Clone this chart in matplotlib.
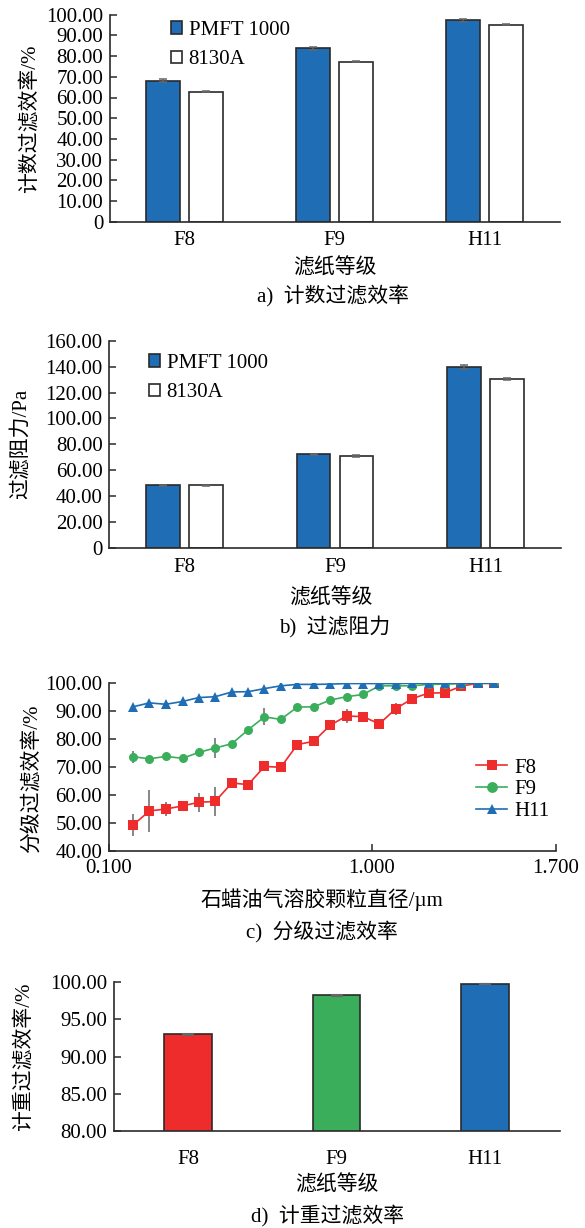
import matplotlib
matplotlib.use('Agg')
import matplotlib.pyplot as plt
import numpy as np
from matplotlib.ticker import FuncFormatter, NullLocator

plt.rcParams['font.family'] = ['Liberation Serif', 'Noto Sans CJK SC']
plt.rcParams['font.size'] = 15
plt.rcParams['axes.unicode_minus'] = False

# ---- data ----
grades = ['F8', 'F9', 'H11']
series_names = ['PMFT 1000', '8130A']

count_eff_pmft = [68.0, 83.8, 97.3]
count_eff_pmft_err = [0.7, 0.8, 0.8]
count_eff_8130 = [62.8, 77.3, 95.2]
count_eff_8130_err = [0.2, 0.3, 0.2]

resist_pmft = [48.6, 72.5, 139.4]
resist_pmft_err = [0.4, 0.4, 1.5]
resist_8130 = [48.3, 71.0, 130.6]
resist_8130_err = [0.5, 0.9, 0.8]

diam = [0.124, 0.143, 0.165, 0.191, 0.220, 0.254, 0.294, 0.339, 0.391, 0.451,
        0.521, 0.602, 0.694, 0.801, 0.925, 1.067, 1.232, 1.422, 1.641, 1.894,
        2.186, 2.523, 2.913]
frac_f8 = [49.3, 54.3, 55.0, 56.1, 57.4, 57.7, 64.3, 63.7, 70.2, 69.9,
           78.0, 79.2, 84.9, 88.2, 88.0, 85.4, 90.8, 94.4, 96.4, 96.5,
           98.9, 99.9, 99.9]
frac_f8_err = [3.9, 7.6, 2.6, 1.0, 3.3, 5.1, 0.8, 0.8, 0.8, 0.6,
               0.6, 0.6, 0.6, 2.5, 0.6, 0.6, 2.1, 0.5, 0.5, 0.4,
               0.3, 0.1, 0.1]
frac_f9 = [73.7, 72.9, 73.8, 73.1, 75.2, 76.8, 78.3, 83.3, 87.9, 87.0,
           91.4, 91.5, 93.9, 95.1, 95.9, 99.0, 99.0, 99.0, 99.5, 99.6,
           99.8, 99.9, 99.9]
frac_f9_err = [2.1, 0.6, 0.6, 1.0, 1.7, 3.7, 0.6, 0.6, 3.0, 0.6,
               0.5, 0.5, 0.5, 0.5, 0.4, 0.3, 0.3, 0.3, 0.2, 0.2,
               0.1, 0.1, 0.1]
frac_h11 = [91.5, 92.9, 92.4, 93.4, 94.8, 95.1, 96.8, 96.9, 98.0, 99.0,
            99.5, 99.5, 99.6, 99.8, 99.8, 99.8, 99.8, 99.9, 99.9, 99.9,
            99.9, 99.9, 99.9]
frac_h11_err = [1.0, 0.5, 0.4, 0.4, 0.4, 0.3, 0.3, 0.3, 0.2, 0.2,
                0.1, 0.1, 0.1, 0.1, 0.1, 0.1, 0.1, 0.1, 0.1, 0.1,
                0.1, 0.1, 0.1]
c_ticks = [0.1, 1.0, 5.0]
c_ticklabels = ['0.100', '1.000', '1.700']

mass_eff = [93.0, 98.26, 99.8]
mass_eff_err = [0.05, 0.06, 0.03]

RED = '#ee2c2c'
GREEN = '#3bae5b'
BLUE = '#1f6db4'
EDGE = '#2a2a2a'
ERR = '#666666'

W, H = 585, 1228
fig = plt.figure(figsize=(W / 100, H / 100), dpi=100)


def box(l, t, r, b):
    return [l / W, 1 - b / H, (r - l) / W, (b - t) / H]


def fmt(v, pos):
    return '0' if v == 0 else f'{v:.2f}'


def style(ax):
    for s in ['top', 'right']:
        ax.spines[s].set_visible(False)
    for s in ['left', 'bottom']:
        ax.spines[s].set_color(EDGE)
        ax.spines[s].set_linewidth(1.2)
    ax.tick_params(axis='y', direction='in', length=5, width=1.1, color=EDGE, pad=4.5)
    ax.yaxis.set_major_formatter(FuncFormatter(fmt))


def ftext(x, y, s, **kw):
    fig.text(x / W, 1 - y / H, s, ha='center', va='center', **kw)


def pair_bars(ax, v1, e1, v2, e2, ymax, step, leg_xy):
    x = np.arange(len(grades))
    w = 0.225
    off = 0.1425
    ekw = dict(ecolor=ERR, elinewidth=1.1, capsize=3, capthick=1.1)
    ax.bar(x - off, v1, w, yerr=e1, color=BLUE, edgecolor=EDGE, linewidth=1.2,
           error_kw=ekw, label=series_names[0])
    ax.bar(x + off, v2, w, yerr=e2, color='white', edgecolor=EDGE, linewidth=1.2,
           error_kw=ekw, label=series_names[1])
    ax.set_xlim(-0.5, 2.5)
    ax.set_ylim(0, ymax)
    ax.set_yticks(np.arange(0, ymax + 0.1, step))
    ax.set_xticks(x)
    ax.set_xticklabels(grades)
    ax.tick_params(axis='x', length=0, pad=7)
    style(ax)
    ax.legend(loc='upper left', bbox_to_anchor=(leg_xy[0] / W, 1 - leg_xy[1] / H),
              bbox_transform=fig.transFigure, frameon=False, handlelength=0.55,
              handleheight=0.55, handletextpad=0.3, labelspacing=0.5,
              borderpad=0, borderaxespad=0, fontsize=15)


# a) count efficiency
ax1 = fig.add_axes(box(109.5, 14.7, 559.5, 221.7))
pair_bars(ax1, count_eff_pmft, count_eff_pmft_err, count_eff_8130, count_eff_8130_err,
          100, 10, (171, 21))
ftext(30, 119, '计数过滤效率/%', rotation=90)
ftext(335, 268, '滤纸等级')
ftext(333, 295, 'a)  计数过滤效率')

# b) resistance
ax2 = fig.add_axes(box(109, 340.7, 561, 548))
pair_bars(ax2, resist_pmft, resist_pmft_err, resist_8130, resist_8130_err,
          160, 20, (149, 354))
ftext(21, 444, '过滤阻力/Pa', rotation=90)
ftext(331, 598, '滤纸等级')
ftext(335, 627, 'b)  过滤阻力')

# c) fractional efficiency
ax3 = fig.add_axes(box(108.5, 683, 556, 851))
lines = [(frac_f8, frac_f8_err, RED, 's', 'F8'),
         (frac_f9, frac_f9_err, GREEN, 'o', 'F9'),
         (frac_h11, frac_h11_err, BLUE, '^', 'H11')]
handles = []
for vals, errs, col, mk, lab in lines:
    cont = ax3.errorbar(diam, vals, yerr=errs, color=col, marker=mk, markersize=6.5,
                        markeredgewidth=0, linewidth=1.2, ecolor=ERR, elinewidth=1.1,
                        capsize=3, capthick=1.1, label=lab)
    handles.append(cont[0])
ax3.set_xscale('log')
ax3.set_xlim(0.1, 5.0)
ax3.set_ylim(40, 100)
ax3.set_yticks(np.arange(40, 100.1, 10))
ax3.xaxis.set_minor_locator(NullLocator())
ax3.set_xticks(c_ticks)
ax3.set_xticklabels(c_ticklabels)
ax3.tick_params(axis='x', direction='in', length=5, width=1.1, color=EDGE, pad=6)
style(ax3)
ax3.legend(handles, [t[4] for t in lines], loc='upper left',
           bbox_to_anchor=(476 / W, 1 - 758 / H),
           bbox_transform=fig.transFigure, frameon=False, handlelength=1.5,
           handletextpad=0.35, labelspacing=0.1, borderpad=0, borderaxespad=0,
           fontsize=15, markerscale=1.2)
ftext(32, 779, '分级过滤效率/%', rotation=90)
ftext(322, 900, '石蜡油气溶胶颗粒直径/µm')
ftext(322, 932, 'c)  分级过滤效率')

# d) mass efficiency
ax4 = fig.add_axes(box(113.6, 982.3, 559.5, 1131))
xd = np.arange(len(grades))
ax4.bar(xd, mass_eff, 0.32, yerr=mass_eff_err, color=[RED, GREEN, BLUE],
        edgecolor=EDGE, linewidth=1.2,
        error_kw=dict(ecolor=ERR, elinewidth=1.1, capsize=4, capthick=1.5))
ax4.set_xlim(-0.5, 2.5)
ax4.set_ylim(80, 100)
ax4.set_yticks(np.arange(80, 100.1, 5))
ax4.set_xticks(xd)
ax4.set_xticklabels(grades)
ax4.tick_params(axis='x', length=0, pad=14)
style(ax4)
ftext(24, 1057, '计重过滤效率/%', rotation=90)
ftext(337, 1185, '滤纸等级')
ftext(328, 1215, 'd)  计重过滤效率')

fig.savefig('out.png', dpi=100)
